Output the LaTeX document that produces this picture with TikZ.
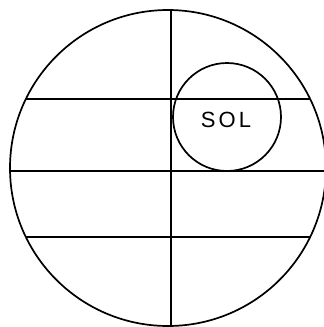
\documentclass[tikz,border=0pt]{standalone}
\usepackage{fontspec}
\setmainfont{Liberation Sans}
\begin{document}
\begin{tikzpicture}[x=1pt,y=-1pt,
  ln/.style={line width=1.7pt,black},
  lbl/.style={font=\fontsize{22}{24}\selectfont,inner sep=0pt}]
\useasboundingbox (0,0) rectangle (324,327);
\coordinate (C) at (168,168);
\coordinate (s) at (227,117);
\begin{scope}
  \clip (C) circle[radius=158];
  \draw[ln] (0,99) -- (324,99);
  \draw[ln] (0,171) -- (330,171);
  \draw[ln] (0,237) -- (324,237);
\end{scope}
\coordinate (vt) at (171,10);
\coordinate (vb) at (171,330);
\draw[ln] (vt) -- (vb);
\draw[ln] (C) circle[radius=158];
\draw[ln] (s) circle[radius=54];
\node[lbl] (sol) at (226,120) {S\hspace{3pt}O\hspace{3pt}L};
\end{tikzpicture}
\end{document}
